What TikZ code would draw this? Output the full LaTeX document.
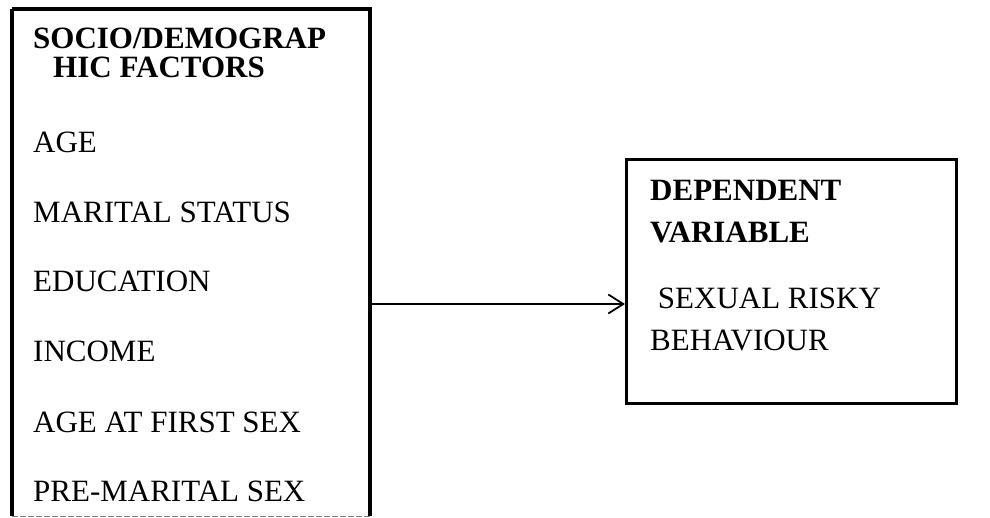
\documentclass[tikz,border=0pt]{standalone}
\usepackage{fontspec}
\setmainfont{Liberation Serif}
\usetikzlibrary{arrows.meta}
\begin{document}
\begin{tikzpicture}[x=1pt,y=-1pt,
  boxline/.style={draw=black,line width=3.2pt},
  txt/.style={anchor=base west,inner sep=0pt,font=\fontsize{31}{36}\selectfont},
  hdr/.style={txt,font=\fontsize{31}{36}\selectfont\bfseries},
  conn/.style={line width=1.8pt,-{Straight Barb[length=15pt,width=19pt,line width=1.8pt]}}]
\useasboundingbox (0,0) rectangle (990,517);
% left box
\coordinate (l1) at (12,9);
\coordinate (l2) at (370,9);
\coordinate (l3) at (370,516);
\coordinate (l4) at (12,516);
\draw[boxline,line width=3.6pt] (l4) -- (l1);
\draw[boxline] (l1) -- (l2) -- (l3);
\draw[gray,line width=1pt,dash pattern=on 6pt off 2pt] (l4) -- (l3);
\node[hdr] (h1) at (33,48) {SOCIO/DEMOGRAP};
\node[hdr] (h2) at (53,77) {HIC FACTORS};
\node[txt] (i1) at (33,152) {AGE};
\node[txt] (i2) at (33,222) {MARITAL STATUS};
\node[txt] (i3) at (33,291) {EDUCATION};
\node[txt] (i4) at (33,361) {INCOME};
\node[txt] (i5) at (33,432) {AGE AT FIRST SEX};
\node[txt] (i6) at (33,501) {PRE-MARITAL SEX};
% right box
\node[boxline,minimum width=330pt,minimum height=244pt,anchor=north west,inner sep=0pt] (rb) at (625,158) {};
\node[hdr] (d1) at (650,200) {DEPENDENT};
\node[hdr] (d2) at (650,242) {VARIABLE};
\node[txt] (d3) at (650,308) {\ SEXUAL RISKY};
\node[txt] (d4) at (650,350) {BEHAVIOUR};
% arrow
\coordinate (as) at (370,304);
\draw[conn] (as) -- (as -| rb.west);
\end{tikzpicture}
\end{document}
